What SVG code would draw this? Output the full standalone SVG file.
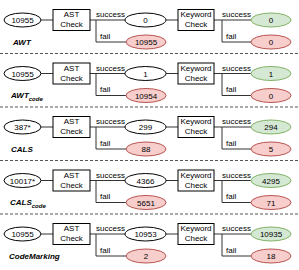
<svg xmlns="http://www.w3.org/2000/svg" width="299" height="270" viewBox="0 0 299 270">
<style>
text{font-family:"Liberation Sans",Arial,sans-serif;font-size:8px;fill:#000}
.m{text-anchor:middle}
.lbl{font-weight:bold;font-style:italic}
.sub{font-size:6px}
.w{fill:#fff;stroke:#000;stroke-width:1}
.g{fill:#d5e8d4;stroke:#82b366;stroke-width:1}
.r{fill:#f8cecc;stroke:#b85450;stroke-width:1}
.ln{fill:none;stroke:#333;stroke-width:1}
.dash{stroke:#555;stroke-width:1;stroke-dasharray:3 2}
</style>
<defs>
<g id="row">
<g class="ln">
<path d="M41 20H53M90 20H125M96 20V42H126M166 20H178M214 20H251M222 20V42H251"/>
</g>
<rect class="w" x="53" y="9.5" width="37" height="21"/>
<text class="m" x="71.5" y="17">AST</text>
<text class="m" x="71.5" y="27">Check</text>
<rect class="w" x="178" y="9.5" width="36" height="21"/>
<text class="m" x="196" y="17">Keyword</text>
<text class="m" x="196" y="27">Check</text>
<text x="96" y="17">success</text>
<text x="100" y="38.5">fail</text>
<text x="222" y="17">success</text>
<text x="226" y="38.5">fail</text>
</g>
</defs>
<g id="connectors">
<use href="#row"/>
<use href="#row" y="53.5"/>
<use href="#row" y="107"/>
<use href="#row" y="160.5"/>
<use href="#row" y="214"/>
<line class="dash" x1="0" y1="53.5" x2="299" y2="53.5"/>
<line class="dash" x1="0" y1="107" x2="299" y2="107"/>
<line class="dash" x1="0" y1="160.5" x2="299" y2="160.5"/>
<line class="dash" x1="0" y1="214" x2="299" y2="214"/>
</g>
<g id="row-awt">
<ellipse class="w" cx="22.5" cy="20" rx="18.5" ry="7"/><text class="m" x="22.5" y="23">10955</text>
<ellipse class="w" cx="145.5" cy="20" rx="20.5" ry="7"/><text class="m" x="145.5" y="23">0</text>
<ellipse class="r" cx="146" cy="42" rx="20" ry="7"/><text class="m" x="146" y="45">10955</text>
<ellipse class="g" cx="271" cy="20" rx="20" ry="7"/><text class="m" x="271" y="23">0</text>
<ellipse class="r" cx="271" cy="42" rx="20" ry="7"/><text class="m" x="271" y="45">0</text>
<text class="lbl" x="13" y="45">AWT</text>
</g>
<g id="row-awtcode" transform="translate(0,53.5)">
<ellipse class="w" cx="22.5" cy="20" rx="18.5" ry="7"/><text class="m" x="22.5" y="23">10955</text>
<ellipse class="w" cx="145.5" cy="20" rx="20.5" ry="7"/><text class="m" x="145.5" y="23">1</text>
<ellipse class="r" cx="146" cy="42" rx="20" ry="7"/><text class="m" x="146" y="45">10954</text>
<ellipse class="g" cx="271" cy="20" rx="20" ry="7"/><text class="m" x="271" y="23">1</text>
<ellipse class="r" cx="271" cy="42" rx="20" ry="7"/><text class="m" x="271" y="45">0</text>
<text class="lbl" x="11" y="44">AWT<tspan class="sub" dy="3">code</tspan></text>
</g>
<g id="row-cals" transform="translate(0,107)">
<ellipse class="w" cx="22.5" cy="20" rx="18.5" ry="7"/><text class="m" x="22.5" y="23">387*</text>
<ellipse class="w" cx="145.5" cy="20" rx="20.5" ry="7"/><text class="m" x="145.5" y="23">299</text>
<ellipse class="r" cx="146" cy="42" rx="20" ry="7"/><text class="m" x="146" y="45">88</text>
<ellipse class="g" cx="271" cy="20" rx="20" ry="7"/><text class="m" x="271" y="23">294</text>
<ellipse class="r" cx="271" cy="42" rx="20" ry="7"/><text class="m" x="271" y="45">5</text>
<text class="lbl" x="11" y="45">CALS</text>
</g>
<g id="row-calscode" transform="translate(0,160.5)">
<ellipse class="w" cx="22.5" cy="20" rx="18.5" ry="7"/><text class="m" x="22.5" y="23">10017*</text>
<ellipse class="w" cx="145.5" cy="20" rx="20.5" ry="7"/><text class="m" x="145.5" y="23">4366</text>
<ellipse class="r" cx="146" cy="42" rx="20" ry="7"/><text class="m" x="146" y="45">5651</text>
<ellipse class="g" cx="271" cy="20" rx="20" ry="7"/><text class="m" x="271" y="23">4295</text>
<ellipse class="r" cx="271" cy="42" rx="20" ry="7"/><text class="m" x="271" y="45">71</text>
<text class="lbl" x="10" y="44">CALS<tspan class="sub" dy="3">code</tspan></text>
</g>
<g id="row-codemarking" transform="translate(0,214)">
<ellipse class="w" cx="22.5" cy="20" rx="18.5" ry="7"/><text class="m" x="22.5" y="23">10955</text>
<ellipse class="w" cx="145.5" cy="20" rx="20.5" ry="7"/><text class="m" x="145.5" y="23">10953</text>
<ellipse class="r" cx="146" cy="42" rx="20" ry="7"/><text class="m" x="146" y="45">2</text>
<ellipse class="g" cx="271" cy="20" rx="20" ry="7"/><text class="m" x="271" y="23">10935</text>
<ellipse class="r" cx="271" cy="42" rx="20" ry="7"/><text class="m" x="271" y="45">18</text>
<text class="lbl" x="9" y="45">CodeMarking</text>
</g>
</svg>
